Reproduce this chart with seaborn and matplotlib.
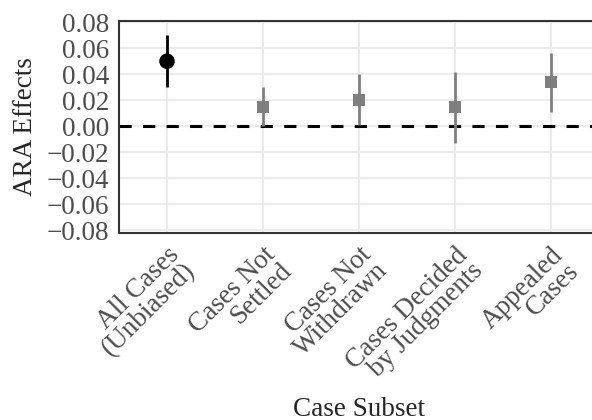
import matplotlib
matplotlib.use('Agg')
import matplotlib.pyplot as plt
import seaborn as sns
import pandas as pd

# data
subsets = [
    'All Cases\n(Unbiased)',
    'Cases Not\nSettled',
    'Cases Not\nWithdrawn',
    'Cases Decided\nby Judgments',
    'Appealed\nCases',
]
effects = [0.050, 0.015, 0.020, 0.015, 0.034]
ci_low = [0.030, 0.000, 0.001, -0.013, 0.011]
ci_high = [0.070, 0.030, 0.040, 0.042, 0.056]
groups = ['Unbiased', 'Biased', 'Biased', 'Biased', 'Biased']
y_ticks = [-0.08, -0.06, -0.04, -0.02, 0.00, 0.02, 0.04, 0.06, 0.08]

colors = {'Unbiased': 'black', 'Biased': '#7F7F7F'}
markers = {'Unbiased': 'o', 'Biased': 's'}

df = pd.DataFrame({
    'subset': subsets,
    'effect': effects,
    'low': ci_low,
    'high': ci_high,
    'group': groups,
})

sns.set_style('white')
plt.rcParams['font.family'] = ['Liberation Serif', 'DejaVu Serif']
fs = 19.5

fig = plt.figure(figsize=(5.92, 4.2), dpi=100)
ax = fig.add_axes([119 / 592, 1 - 233 / 420, 480 / 592, 212 / 420])

# points first so the category order follows the data
sns.scatterplot(
    data=df, x='subset', y='effect', hue='group', style='group',
    palette=colors, markers=markers, s=90, linewidth=0, legend=False, ax=ax, zorder=4,
)
# bigger circle for the unbiased estimate
ax.collections[-1].set_sizes([125 if g == 'Unbiased' else 72 for g in df['group']])

# confidence intervals
for g, sub in df.groupby('group'):
    ax.vlines(sub['subset'], sub['low'], sub['high'], color=colors[g], linewidth=2.0, zorder=3)

ax.axhline(0, color='black', linestyle=(0, (4, 3.7)), linewidth=2.2, zorder=2)

ax.set_xlim(-0.5, 4.5)
ax.set_ylim(-0.0823, 0.081)
ax.set_yticks(y_ticks)
ax.set_yticklabels([f'{v:.2f}'.replace('-', '\u2212') for v in y_ticks])
ax.grid(True, color='#EBEBEB', linewidth=1.5, zorder=0)
ax.set_axisbelow(True)

for side in ['left', 'bottom', 'top']:
    ax.spines[side].set_color('#333333')
    ax.spines[side].set_linewidth(1.5)
ax.spines['right'].set_visible(False)

ax.tick_params(axis='both', length=5, width=1.5, color='#333333', labelcolor='#4D4D4D', labelsize=fs, pad=2)
plt.setp(ax.get_xticklabels(), rotation=45, ha='right', va='top', rotation_mode='anchor',
         multialignment='right', linespacing=0.85)

ax.set_xlabel('Case Subset', fontsize=fs)
ax.xaxis.set_label_coords(0.5, -0.775)
ax.set_ylabel('ARA Effects', fontsize=fs, labelpad=6)

fig.savefig('out.png', dpi=100)
